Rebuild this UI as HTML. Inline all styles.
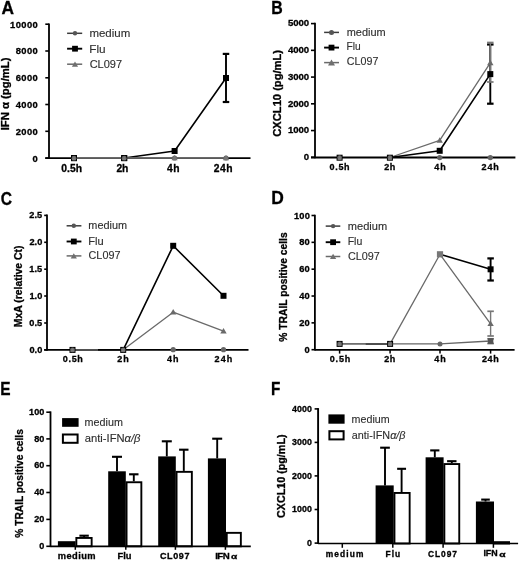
<!DOCTYPE html>
<html><head><meta charset="utf-8"><style>
html,body{margin:0;padding:0;background:#fff;}
svg{display:block;filter:blur(0.3px);}
text{font-family:"Liberation Sans",sans-serif;}
text[font-weight="bold"]{stroke:#000;stroke-width:0.3px;}
text[font-weight="normal"]{stroke:#333;stroke-width:0.12px;}
</style></head><body>
<svg width="520" height="561" viewBox="0 0 520 561">
<rect width="520" height="561" fill="#fff"/>
<text x="1.57" y="13.55" font-size="17.5" font-weight="bold" fill="#000" textLength="12.50" lengthAdjust="spacingAndGlyphs">A</text>
<line x1="49.00" y1="23.40" x2="49.00" y2="158.90" stroke="#000" stroke-width="1.8" stroke-linecap="butt"/>
<line x1="45.30" y1="24.20" x2="49.00" y2="24.20" stroke="#000" stroke-width="1.6" stroke-linecap="butt"/>
<text x="10.09" y="27.60" font-size="9.4" font-weight="bold" fill="#000" textLength="27.74" lengthAdjust="spacing">10000</text>
<line x1="45.30" y1="51.00" x2="49.00" y2="51.00" stroke="#000" stroke-width="1.6" stroke-linecap="butt"/>
<text x="15.71" y="54.40" font-size="9.4" font-weight="bold" fill="#000" textLength="22.11" lengthAdjust="spacing">8000</text>
<line x1="45.30" y1="77.80" x2="49.00" y2="77.80" stroke="#000" stroke-width="1.6" stroke-linecap="butt"/>
<text x="15.71" y="81.20" font-size="9.4" font-weight="bold" fill="#000" textLength="22.11" lengthAdjust="spacing">6000</text>
<line x1="45.30" y1="104.50" x2="49.00" y2="104.50" stroke="#000" stroke-width="1.6" stroke-linecap="butt"/>
<text x="15.71" y="107.90" font-size="9.4" font-weight="bold" fill="#000" textLength="22.11" lengthAdjust="spacing">4000</text>
<line x1="45.30" y1="131.30" x2="49.00" y2="131.30" stroke="#000" stroke-width="1.6" stroke-linecap="butt"/>
<text x="15.71" y="134.70" font-size="9.4" font-weight="bold" fill="#000" textLength="22.11" lengthAdjust="spacing">2000</text>
<line x1="45.30" y1="158.10" x2="49.00" y2="158.10" stroke="#000" stroke-width="1.6" stroke-linecap="butt"/>
<text x="32.61" y="161.50" font-size="9.4" font-weight="bold" fill="#000" textLength="5.23" lengthAdjust="spacing">0</text>
<line x1="45.30" y1="158.10" x2="250.50" y2="158.10" stroke="#000" stroke-width="1.8" stroke-linecap="butt"/>
<text x="61.29" y="172.00" font-size="10.3" font-weight="bold" fill="#000" textLength="20.84" lengthAdjust="spacing">0.5h</text>
<text x="116.44" y="172.00" font-size="10.3" font-weight="bold" fill="#000" textLength="11.90" lengthAdjust="spacing">2h</text>
<text x="167.05" y="172.00" font-size="10.3" font-weight="bold" fill="#000" textLength="12.49" lengthAdjust="spacing">4h</text>
<text x="213.74" y="172.00" font-size="10.3" font-weight="bold" fill="#000" textLength="18.91" lengthAdjust="spacing">24h</text>
<text transform="translate(8.70,129.60) rotate(-90)" x="-0.73" y="0" font-size="10.5" font-weight="bold" fill="#000" textLength="72.86" lengthAdjust="spacingAndGlyphs">IFN α (pg/mL)</text>
<line x1="67.10" y1="33.30" x2="82.20" y2="33.30" stroke="#3c3c3c" stroke-width="1.5" stroke-linecap="butt"/>
<circle cx="75.00" cy="33.30" r="2.2" fill="#555"/>
<line x1="67.10" y1="48.70" x2="82.20" y2="48.70" stroke="#000" stroke-width="1.9" stroke-linecap="butt"/>
<rect x="72.10" y="45.80" width="5.8" height="5.8" fill="#000"/>
<line x1="67.10" y1="64.20" x2="82.20" y2="64.20" stroke="#6a6a6a" stroke-width="1.5" stroke-linecap="butt"/>
<polygon points="75.00,61.44 78.10,66.71 71.90,66.71" fill="#6f6f6f"/>
<text x="89.45" y="36.80" font-size="10.6" font-weight="normal" fill="#2e2e2e" textLength="40.81" lengthAdjust="spacingAndGlyphs">medium</text>
<text x="89.26" y="52.80" font-size="10.6" font-weight="normal" fill="#2e2e2e" textLength="16.40" lengthAdjust="spacingAndGlyphs">Flu</text>
<text x="89.65" y="67.80" font-size="10.6" font-weight="normal" fill="#2e2e2e" textLength="32.42" lengthAdjust="spacingAndGlyphs">CL097</text>
<polyline points="124.20,158.00 174.60,151.00 226.00,78.00" fill="none" stroke="#000" stroke-width="1.6" stroke-linejoin="round"/>
<line x1="226.00" y1="53.90" x2="226.00" y2="102.00" stroke="#000" stroke-width="1.9" stroke-linecap="butt"/>
<line x1="222.75" y1="53.90" x2="229.25" y2="53.90" stroke="#000" stroke-width="2.1999999999999997" stroke-linecap="butt"/>
<line x1="222.75" y1="102.00" x2="229.25" y2="102.00" stroke="#000" stroke-width="2.1999999999999997" stroke-linecap="butt"/>
<rect x="71.00" y="155.00" width="6" height="6" fill="#000"/>
<rect x="121.20" y="155.00" width="6" height="6" fill="#000"/>
<rect x="171.60" y="148.00" width="6" height="6" fill="#000"/>
<rect x="223.00" y="75.00" width="6" height="6" fill="#000"/>
<polyline points="74.00,158.00 226.00,158.00" fill="none" stroke="#777" stroke-width="1.4" stroke-linejoin="round"/>
<rect x="71.00" y="155.20" width="6" height="6" fill="#000"/>
<circle cx="74.00" cy="158.20" r="2.4" fill="#6a6a6a"/>
<polygon points="74.00,156.23 76.30,160.14 71.70,160.14" fill="#7a7a7a"/>
<rect x="121.20" y="155.20" width="6" height="6" fill="#000"/>
<circle cx="124.20" cy="158.20" r="2.4" fill="#6a6a6a"/>
<polygon points="124.20,156.23 126.50,160.14 121.90,160.14" fill="#7a7a7a"/>
<circle cx="174.60" cy="158.00" r="2.6" fill="#666"/>
<polygon points="174.60,154.94 177.70,160.21 171.50,160.21" fill="#777"/>
<circle cx="226.00" cy="158.00" r="2.6" fill="#666"/>
<polygon points="226.00,154.94 229.10,160.21 222.90,160.21" fill="#777"/>
<text x="271.27" y="13.90" font-size="17.5" font-weight="bold" fill="#000" textLength="11.48" lengthAdjust="spacingAndGlyphs">B</text>
<line x1="315.00" y1="22.80" x2="315.00" y2="158.30" stroke="#000" stroke-width="1.8" stroke-linecap="butt"/>
<line x1="311.00" y1="23.60" x2="315.00" y2="23.60" stroke="#000" stroke-width="1.6" stroke-linecap="butt"/>
<text x="288.12" y="26.45" font-size="9.6" font-weight="bold" fill="#000" textLength="21.06" lengthAdjust="spacing">5000</text>
<line x1="311.00" y1="50.34" x2="315.00" y2="50.34" stroke="#000" stroke-width="1.6" stroke-linecap="butt"/>
<text x="288.12" y="53.19" font-size="9.6" font-weight="bold" fill="#000" textLength="21.06" lengthAdjust="spacing">4000</text>
<line x1="311.00" y1="77.08" x2="315.00" y2="77.08" stroke="#000" stroke-width="1.6" stroke-linecap="butt"/>
<text x="288.12" y="79.93" font-size="9.6" font-weight="bold" fill="#000" textLength="21.06" lengthAdjust="spacing">3000</text>
<line x1="311.00" y1="103.82" x2="315.00" y2="103.82" stroke="#000" stroke-width="1.6" stroke-linecap="butt"/>
<text x="288.12" y="106.67" font-size="9.6" font-weight="bold" fill="#000" textLength="21.06" lengthAdjust="spacing">2000</text>
<line x1="311.00" y1="130.56" x2="315.00" y2="130.56" stroke="#000" stroke-width="1.6" stroke-linecap="butt"/>
<text x="288.12" y="133.41" font-size="9.6" font-weight="bold" fill="#000" textLength="21.06" lengthAdjust="spacing">1000</text>
<line x1="311.00" y1="157.30" x2="315.00" y2="157.30" stroke="#000" stroke-width="1.6" stroke-linecap="butt"/>
<text x="303.86" y="160.15" font-size="9.6" font-weight="bold" fill="#000" textLength="5.34" lengthAdjust="spacing">0</text>
<line x1="311.00" y1="157.50" x2="515.40" y2="157.50" stroke="#000" stroke-width="1.8" stroke-linecap="butt"/>
<text x="329.54" y="170.40" font-size="9.0" font-weight="bold" fill="#000" textLength="20.01" lengthAdjust="spacing">0.5h</text>
<text x="384.19" y="170.40" font-size="9.0" font-weight="bold" fill="#000" textLength="11.07" lengthAdjust="spacing">2h</text>
<text x="434.37" y="170.40" font-size="9.0" font-weight="bold" fill="#000" textLength="11.39" lengthAdjust="spacing">4h</text>
<text x="481.59" y="170.40" font-size="9.0" font-weight="bold" fill="#000" textLength="17.18" lengthAdjust="spacing">24h</text>
<text transform="translate(281.30,136.30) rotate(-90)" x="-0.45" y="0" font-size="10.9" font-weight="bold" fill="#000" textLength="86.78" lengthAdjust="spacingAndGlyphs">CXCL10 (pg/mL)</text>
<line x1="324.10" y1="32.40" x2="339.00" y2="32.40" stroke="#3c3c3c" stroke-width="1.5" stroke-linecap="butt"/>
<circle cx="331.50" cy="32.40" r="2.5" fill="#555"/>
<line x1="324.10" y1="47.60" x2="339.00" y2="47.60" stroke="#000" stroke-width="1.9" stroke-linecap="butt"/>
<rect x="328.60" y="44.70" width="5.8" height="5.8" fill="#000"/>
<line x1="324.10" y1="62.60" x2="339.00" y2="62.60" stroke="#6a6a6a" stroke-width="1.5" stroke-linecap="butt"/>
<polygon points="331.50,59.45 335.00,65.40 328.00,65.40" fill="#6f6f6f"/>
<text x="346.69" y="35.80" font-size="10.2" font-weight="normal" fill="#2e2e2e" textLength="38.94" lengthAdjust="spacingAndGlyphs">medium</text>
<text x="346.58" y="50.40" font-size="10.2" font-weight="normal" fill="#2e2e2e" textLength="14.17" lengthAdjust="spacingAndGlyphs">Flu</text>
<text x="346.87" y="65.40" font-size="10.2" font-weight="normal" fill="#2e2e2e" textLength="31.49" lengthAdjust="spacingAndGlyphs">CL097</text>
<polyline points="389.90,157.50 439.70,140.40 490.30,62.90" fill="none" stroke="#6a6a6a" stroke-width="1.3" stroke-linejoin="round"/>
<polyline points="389.90,157.50 439.70,150.80 490.30,74.10" fill="none" stroke="#000" stroke-width="1.6" stroke-linejoin="round"/>
<line x1="490.30" y1="44.50" x2="490.30" y2="103.70" stroke="#000" stroke-width="1.9" stroke-linecap="butt"/>
<line x1="487.05" y1="44.50" x2="493.55" y2="44.50" stroke="#000" stroke-width="2.1999999999999997" stroke-linecap="butt"/>
<line x1="487.05" y1="103.70" x2="493.55" y2="103.70" stroke="#000" stroke-width="2.1999999999999997" stroke-linecap="butt"/>
<line x1="490.30" y1="42.50" x2="490.30" y2="82.00" stroke="#777" stroke-width="1.4" stroke-linecap="butt"/>
<line x1="487.05" y1="42.50" x2="493.55" y2="42.50" stroke="#777" stroke-width="1.7" stroke-linecap="butt"/>
<line x1="487.05" y1="82.00" x2="493.55" y2="82.00" stroke="#777" stroke-width="1.7" stroke-linecap="butt"/>
<rect x="436.70" y="147.80" width="6" height="6" fill="#000"/>
<rect x="487.30" y="71.10" width="6" height="6" fill="#000"/>
<polygon points="439.70,137.24 442.90,142.68 436.50,142.68" fill="#6a6a6a"/>
<polygon points="490.30,59.74 493.50,65.18 487.10,65.18" fill="#6a6a6a"/>
<rect x="336.60" y="154.70" width="6" height="6" fill="#000"/>
<circle cx="339.60" cy="157.70" r="2.4" fill="#6a6a6a"/>
<polygon points="339.60,155.73 341.90,159.64 337.30,159.64" fill="#7a7a7a"/>
<rect x="386.90" y="154.70" width="6" height="6" fill="#000"/>
<circle cx="389.90" cy="157.70" r="2.4" fill="#6a6a6a"/>
<polygon points="389.90,155.73 392.20,159.64 387.60,159.64" fill="#7a7a7a"/>
<circle cx="439.70" cy="157.60" r="2.7" fill="#666"/>
<circle cx="490.30" cy="157.60" r="2.7" fill="#666"/>
<text x="0.68" y="204.85" font-size="17.5" font-weight="bold" fill="#000" textLength="11.25" lengthAdjust="spacingAndGlyphs">C</text>
<line x1="47.00" y1="214.60" x2="47.00" y2="350.70" stroke="#000" stroke-width="1.8" stroke-linecap="butt"/>
<line x1="44.20" y1="215.40" x2="47.00" y2="215.40" stroke="#000" stroke-width="1.6" stroke-linecap="butt"/>
<text x="29.34" y="218.40" font-size="9.2" font-weight="bold" fill="#000" textLength="12.79" lengthAdjust="spacing">2.5</text>
<line x1="44.20" y1="242.30" x2="47.00" y2="242.30" stroke="#000" stroke-width="1.6" stroke-linecap="butt"/>
<text x="29.48" y="245.30" font-size="9.2" font-weight="bold" fill="#000" textLength="12.79" lengthAdjust="spacing">2.0</text>
<line x1="44.20" y1="269.20" x2="47.00" y2="269.20" stroke="#000" stroke-width="1.6" stroke-linecap="butt"/>
<text x="29.34" y="272.20" font-size="9.2" font-weight="bold" fill="#000" textLength="12.79" lengthAdjust="spacing">1.5</text>
<line x1="44.20" y1="296.00" x2="47.00" y2="296.00" stroke="#000" stroke-width="1.6" stroke-linecap="butt"/>
<text x="29.48" y="299.00" font-size="9.2" font-weight="bold" fill="#000" textLength="12.79" lengthAdjust="spacing">1.0</text>
<line x1="44.20" y1="323.00" x2="47.00" y2="323.00" stroke="#000" stroke-width="1.6" stroke-linecap="butt"/>
<text x="29.34" y="326.00" font-size="9.2" font-weight="bold" fill="#000" textLength="12.79" lengthAdjust="spacing">0.5</text>
<line x1="44.20" y1="349.80" x2="47.00" y2="349.80" stroke="#000" stroke-width="1.6" stroke-linecap="butt"/>
<text x="29.48" y="352.80" font-size="9.2" font-weight="bold" fill="#000" textLength="12.79" lengthAdjust="spacing">0.0</text>
<line x1="44.20" y1="349.90" x2="248.50" y2="349.90" stroke="#000" stroke-width="1.8" stroke-linecap="butt"/>
<text x="62.84" y="362.15" font-size="9.0" font-weight="bold" fill="#000" textLength="20.01" lengthAdjust="spacing">0.5h</text>
<text x="117.19" y="362.15" font-size="9.0" font-weight="bold" fill="#000" textLength="11.57" lengthAdjust="spacing">2h</text>
<text x="167.07" y="362.15" font-size="9.0" font-weight="bold" fill="#000" textLength="11.39" lengthAdjust="spacing">4h</text>
<text x="214.59" y="362.15" font-size="9.0" font-weight="bold" fill="#000" textLength="17.68" lengthAdjust="spacing">24h</text>
<text transform="translate(22.20,326.50) rotate(-90)" x="-0.68" y="0" font-size="10.5" font-weight="bold" fill="#000" textLength="81.58" lengthAdjust="spacingAndGlyphs">MxA (relative Ct)</text>
<line x1="66.60" y1="225.80" x2="81.40" y2="225.80" stroke="#3c3c3c" stroke-width="1.5" stroke-linecap="butt"/>
<circle cx="73.80" cy="225.80" r="2.2" fill="#555"/>
<line x1="66.60" y1="241.50" x2="81.40" y2="241.50" stroke="#000" stroke-width="1.9" stroke-linecap="butt"/>
<rect x="70.90" y="238.60" width="5.8" height="5.8" fill="#000"/>
<line x1="66.60" y1="255.90" x2="81.40" y2="255.90" stroke="#6a6a6a" stroke-width="1.5" stroke-linecap="butt"/>
<polygon points="73.80,253.14 76.90,258.41 70.70,258.41" fill="#6f6f6f"/>
<text x="88.39" y="229.20" font-size="10.0" font-weight="normal" fill="#2e2e2e" textLength="38.74" lengthAdjust="spacingAndGlyphs">medium</text>
<text x="88.21" y="244.50" font-size="10.0" font-weight="normal" fill="#2e2e2e" textLength="15.40" lengthAdjust="spacingAndGlyphs">Flu</text>
<text x="88.56" y="259.30" font-size="10.0" font-weight="normal" fill="#2e2e2e" textLength="31.90" lengthAdjust="spacingAndGlyphs">CL097</text>
<polyline points="98.00,349.80 123.20,349.80 173.20,245.80 223.50,295.80" fill="none" stroke="#000" stroke-width="1.6" stroke-linejoin="round"/>
<polyline points="123.20,349.80 173.20,312.20 223.50,331.20" fill="none" stroke="#6a6a6a" stroke-width="1.3" stroke-linejoin="round"/>
<polyline points="72.50,349.80 98.00,349.80" fill="none" stroke="#666" stroke-width="1.2" stroke-linejoin="round"/>
<rect x="170.20" y="242.80" width="6" height="6" fill="#000"/>
<rect x="220.50" y="292.80" width="6" height="6" fill="#000"/>
<polygon points="173.20,309.04 176.40,314.48 170.00,314.48" fill="#6a6a6a"/>
<polygon points="223.50,328.04 226.70,333.48 220.30,333.48" fill="#6a6a6a"/>
<rect x="69.50" y="346.90" width="6" height="6" fill="#000"/>
<circle cx="72.50" cy="349.90" r="2.4" fill="#6a6a6a"/>
<polygon points="72.50,347.93 74.80,351.84 70.20,351.84" fill="#7a7a7a"/>
<rect x="120.20" y="346.90" width="6" height="6" fill="#000"/>
<circle cx="123.20" cy="349.90" r="2.4" fill="#6a6a6a"/>
<polygon points="123.20,347.93 125.50,351.84 120.90,351.84" fill="#7a7a7a"/>
<circle cx="173.20" cy="349.70" r="2.6" fill="#666"/>
<circle cx="223.50" cy="349.70" r="2.6" fill="#666"/>
<text x="271.17" y="203.50" font-size="17.5" font-weight="bold" fill="#000" textLength="12.56" lengthAdjust="spacingAndGlyphs">D</text>
<line x1="314.90" y1="214.70" x2="314.90" y2="350.60" stroke="#000" stroke-width="1.8" stroke-linecap="butt"/>
<line x1="311.50" y1="215.50" x2="314.90" y2="215.50" stroke="#000" stroke-width="1.6" stroke-linecap="butt"/>
<text x="293.89" y="218.55" font-size="9.3" font-weight="bold" fill="#000" textLength="15.92" lengthAdjust="spacing">100</text>
<line x1="311.50" y1="242.34" x2="314.90" y2="242.34" stroke="#000" stroke-width="1.6" stroke-linecap="butt"/>
<text x="299.25" y="245.39" font-size="9.3" font-weight="bold" fill="#000" textLength="10.54" lengthAdjust="spacing">80</text>
<line x1="311.50" y1="269.18" x2="314.90" y2="269.18" stroke="#000" stroke-width="1.6" stroke-linecap="butt"/>
<text x="299.25" y="272.23" font-size="9.3" font-weight="bold" fill="#000" textLength="10.54" lengthAdjust="spacing">60</text>
<line x1="311.50" y1="296.02" x2="314.90" y2="296.02" stroke="#000" stroke-width="1.6" stroke-linecap="butt"/>
<text x="299.25" y="299.07" font-size="9.3" font-weight="bold" fill="#000" textLength="10.54" lengthAdjust="spacing">40</text>
<line x1="311.50" y1="322.86" x2="314.90" y2="322.86" stroke="#000" stroke-width="1.6" stroke-linecap="butt"/>
<text x="299.25" y="325.91" font-size="9.3" font-weight="bold" fill="#000" textLength="10.54" lengthAdjust="spacing">20</text>
<line x1="311.50" y1="349.70" x2="314.90" y2="349.70" stroke="#000" stroke-width="1.6" stroke-linecap="butt"/>
<text x="304.61" y="352.75" font-size="9.3" font-weight="bold" fill="#000" textLength="5.17" lengthAdjust="spacing">0</text>
<line x1="314.90" y1="349.90" x2="514.60" y2="349.90" stroke="#000" stroke-width="1.8" stroke-linecap="butt"/>
<line x1="339.60" y1="349.90" x2="339.60" y2="353.60" stroke="#000" stroke-width="1.5" stroke-linecap="butt"/>
<line x1="390.10" y1="349.90" x2="390.10" y2="353.60" stroke="#000" stroke-width="1.5" stroke-linecap="butt"/>
<line x1="440.00" y1="349.90" x2="440.00" y2="353.60" stroke="#000" stroke-width="1.5" stroke-linecap="butt"/>
<line x1="490.60" y1="349.90" x2="490.60" y2="353.60" stroke="#000" stroke-width="1.5" stroke-linecap="butt"/>
<text x="329.84" y="362.15" font-size="9.0" font-weight="bold" fill="#000" textLength="20.31" lengthAdjust="spacing">0.5h</text>
<text x="384.19" y="362.15" font-size="9.0" font-weight="bold" fill="#000" textLength="11.07" lengthAdjust="spacing">2h</text>
<text x="434.37" y="362.15" font-size="9.0" font-weight="bold" fill="#000" textLength="11.39" lengthAdjust="spacing">4h</text>
<text x="481.88" y="362.15" font-size="9.0" font-weight="bold" fill="#000" textLength="16.88" lengthAdjust="spacing">24h</text>
<text transform="translate(286.50,341.40) rotate(-90)" x="-0.26" y="0" font-size="10.4" font-weight="bold" fill="#000" textLength="109.28" lengthAdjust="spacingAndGlyphs">% TRAIL positive cells</text>
<line x1="325.70" y1="226.10" x2="340.30" y2="226.10" stroke="#3c3c3c" stroke-width="1.5" stroke-linecap="butt"/>
<circle cx="333.10" cy="226.10" r="2.2" fill="#555"/>
<line x1="325.70" y1="242.20" x2="340.30" y2="242.20" stroke="#000" stroke-width="1.9" stroke-linecap="butt"/>
<rect x="330.20" y="239.30" width="5.8" height="5.8" fill="#000"/>
<line x1="325.70" y1="256.50" x2="340.30" y2="256.50" stroke="#6a6a6a" stroke-width="1.5" stroke-linecap="butt"/>
<polygon points="333.10,253.74 336.20,259.01 330.00,259.01" fill="#6f6f6f"/>
<text x="347.78" y="229.80" font-size="10.0" font-weight="normal" fill="#2e2e2e" textLength="39.36" lengthAdjust="spacingAndGlyphs">medium</text>
<text x="347.66" y="244.80" font-size="10.0" font-weight="normal" fill="#2e2e2e" textLength="14.62" lengthAdjust="spacingAndGlyphs">Flu</text>
<text x="347.96" y="259.60" font-size="10.0" font-weight="normal" fill="#2e2e2e" textLength="31.80" lengthAdjust="spacingAndGlyphs">CL097</text>
<polyline points="339.60,343.90 390.10,343.90 440.00,254.30 490.60,323.80" fill="none" stroke="#6a6a6a" stroke-width="1.3" stroke-linejoin="round"/>
<polyline points="440.00,254.30 490.60,269.30" fill="none" stroke="#000" stroke-width="1.6" stroke-linejoin="round"/>
<polyline points="365.70,343.90 390.10,343.90" fill="none" stroke="#000" stroke-width="1.6" stroke-linejoin="round"/>
<polyline points="339.60,343.90 390.10,343.90 440.00,343.90 490.60,341.00" fill="none" stroke="#666" stroke-width="1.4" stroke-linejoin="round"/>
<line x1="490.60" y1="258.40" x2="490.60" y2="280.50" stroke="#000" stroke-width="1.9" stroke-linecap="butt"/>
<line x1="487.35" y1="258.40" x2="493.85" y2="258.40" stroke="#000" stroke-width="2.1999999999999997" stroke-linecap="butt"/>
<line x1="487.35" y1="280.50" x2="493.85" y2="280.50" stroke="#000" stroke-width="2.1999999999999997" stroke-linecap="butt"/>
<line x1="490.60" y1="311.30" x2="490.60" y2="336.00" stroke="#777" stroke-width="1.4" stroke-linecap="butt"/>
<line x1="487.35" y1="311.30" x2="493.85" y2="311.30" stroke="#777" stroke-width="1.7" stroke-linecap="butt"/>
<line x1="487.35" y1="336.00" x2="493.85" y2="336.00" stroke="#777" stroke-width="1.7" stroke-linecap="butt"/>
<line x1="490.60" y1="338.80" x2="490.60" y2="343.50" stroke="#666" stroke-width="1.4" stroke-linecap="butt"/>
<line x1="487.35" y1="338.80" x2="493.85" y2="338.80" stroke="#666" stroke-width="1.7" stroke-linecap="butt"/>
<line x1="487.35" y1="343.50" x2="493.85" y2="343.50" stroke="#666" stroke-width="1.7" stroke-linecap="butt"/>
<rect x="487.60" y="266.30" width="6" height="6" fill="#000"/>
<rect x="436.90" y="251.20" width="6.2" height="6.2" fill="#777"/>
<polygon points="490.60,320.64 493.80,326.08 487.40,326.08" fill="#6a6a6a"/>
<rect x="336.60" y="340.90" width="6" height="6" fill="#000"/>
<circle cx="339.60" cy="343.90" r="2.4" fill="#6a6a6a"/>
<polygon points="339.60,341.93 341.90,345.84 337.30,345.84" fill="#7a7a7a"/>
<rect x="387.10" y="340.90" width="6" height="6" fill="#000"/>
<circle cx="390.10" cy="343.90" r="2.4" fill="#6a6a6a"/>
<polygon points="390.10,341.93 392.40,345.84 387.80,345.84" fill="#7a7a7a"/>
<circle cx="440.00" cy="343.90" r="2.5" fill="#666"/>
<rect x="487.85" y="338.25" width="5.5" height="5.5" fill="#555"/>
<text x="0.15" y="395.10" font-size="17.5" font-weight="bold" fill="#000" textLength="10.32" lengthAdjust="spacingAndGlyphs">E</text>
<line x1="50.50" y1="411.40" x2="50.50" y2="547.10" stroke="#000" stroke-width="1.8" stroke-linecap="butt"/>
<line x1="46.30" y1="412.20" x2="50.50" y2="412.20" stroke="#000" stroke-width="1.6" stroke-linecap="butt"/>
<text x="29.11" y="414.80" font-size="9.1" font-weight="bold" fill="#000" textLength="15.18" lengthAdjust="spacing">100</text>
<line x1="46.30" y1="438.90" x2="50.50" y2="438.90" stroke="#000" stroke-width="1.6" stroke-linecap="butt"/>
<text x="34.16" y="441.50" font-size="9.1" font-weight="bold" fill="#000" textLength="10.12" lengthAdjust="spacing">80</text>
<line x1="46.30" y1="465.70" x2="50.50" y2="465.70" stroke="#000" stroke-width="1.6" stroke-linecap="butt"/>
<text x="34.16" y="468.30" font-size="9.1" font-weight="bold" fill="#000" textLength="10.12" lengthAdjust="spacing">60</text>
<line x1="46.30" y1="492.50" x2="50.50" y2="492.50" stroke="#000" stroke-width="1.6" stroke-linecap="butt"/>
<text x="34.16" y="495.10" font-size="9.1" font-weight="bold" fill="#000" textLength="10.12" lengthAdjust="spacing">40</text>
<line x1="46.30" y1="519.40" x2="50.50" y2="519.40" stroke="#000" stroke-width="1.6" stroke-linecap="butt"/>
<text x="34.16" y="522.00" font-size="9.1" font-weight="bold" fill="#000" textLength="10.12" lengthAdjust="spacing">20</text>
<line x1="46.30" y1="546.30" x2="50.50" y2="546.30" stroke="#000" stroke-width="1.6" stroke-linecap="butt"/>
<text x="39.21" y="548.90" font-size="9.1" font-weight="bold" fill="#000" textLength="5.06" lengthAdjust="spacing">0</text>
<rect x="57.90" y="541.20" width="17.70" height="5.10" fill="#000"/>
<rect x="76.35" y="537.95" width="15.30" height="8.35" fill="#fff" stroke="#000" stroke-width="1.9"/>
<line x1="84.10" y1="537.00" x2="84.10" y2="535.70" stroke="#000" stroke-width="1.9" stroke-linecap="butt"/>
<line x1="79.40" y1="535.70" x2="88.80" y2="535.70" stroke="#000" stroke-width="2.1" stroke-linecap="butt"/>
<rect x="108.20" y="471.30" width="17.60" height="75.00" fill="#000"/>
<line x1="117.00" y1="471.30" x2="117.00" y2="456.80" stroke="#000" stroke-width="1.9" stroke-linecap="butt"/>
<line x1="112.00" y1="456.80" x2="122.00" y2="456.80" stroke="#000" stroke-width="2.1" stroke-linecap="butt"/>
<rect x="126.55" y="482.25" width="14.80" height="64.05" fill="#fff" stroke="#000" stroke-width="1.9"/>
<line x1="133.80" y1="481.30" x2="133.80" y2="474.30" stroke="#000" stroke-width="1.9" stroke-linecap="butt"/>
<line x1="129.10" y1="474.30" x2="138.50" y2="474.30" stroke="#000" stroke-width="2.1" stroke-linecap="butt"/>
<rect x="158.20" y="456.40" width="17.60" height="89.90" fill="#000"/>
<line x1="166.80" y1="456.40" x2="166.80" y2="441.30" stroke="#000" stroke-width="1.9" stroke-linecap="butt"/>
<line x1="161.80" y1="441.30" x2="171.80" y2="441.30" stroke="#000" stroke-width="2.1" stroke-linecap="butt"/>
<rect x="176.55" y="471.85" width="15.30" height="74.45" fill="#fff" stroke="#000" stroke-width="1.9"/>
<line x1="183.80" y1="470.90" x2="183.80" y2="449.70" stroke="#000" stroke-width="1.9" stroke-linecap="butt"/>
<line x1="179.10" y1="449.70" x2="188.50" y2="449.70" stroke="#000" stroke-width="2.1" stroke-linecap="butt"/>
<rect x="207.90" y="458.40" width="18.10" height="87.90" fill="#000"/>
<line x1="217.20" y1="458.40" x2="217.20" y2="438.70" stroke="#000" stroke-width="1.9" stroke-linecap="butt"/>
<line x1="212.20" y1="438.70" x2="222.20" y2="438.70" stroke="#000" stroke-width="2.1" stroke-linecap="butt"/>
<rect x="226.75" y="532.85" width="14.10" height="13.45" fill="#fff" stroke="#000" stroke-width="1.9"/>
<line x1="50.50" y1="546.30" x2="250.80" y2="546.30" stroke="#000" stroke-width="1.7" stroke-linecap="butt"/>
<line x1="75.30" y1="546.30" x2="75.30" y2="549.80" stroke="#000" stroke-width="1.5" stroke-linecap="butt"/>
<line x1="125.80" y1="546.30" x2="125.80" y2="549.80" stroke="#000" stroke-width="1.5" stroke-linecap="butt"/>
<line x1="175.40" y1="546.30" x2="175.40" y2="549.80" stroke="#000" stroke-width="1.5" stroke-linecap="butt"/>
<line x1="225.40" y1="546.30" x2="225.40" y2="549.80" stroke="#000" stroke-width="1.5" stroke-linecap="butt"/>
<text x="57.80" y="559.00" font-size="9.3" font-weight="bold" fill="#000" textLength="37.70" lengthAdjust="spacing">medium</text>
<text x="117.40" y="559.00" font-size="9.3" font-weight="bold" fill="#000" textLength="14.10" lengthAdjust="spacing">Flu</text>
<text x="159.94" y="559.00" font-size="9.0" font-weight="bold" fill="#000" textLength="29.58" lengthAdjust="spacing">CL097</text>
<text x="215.17" y="558.95" font-size="9.7" font-weight="bold" fill="#000" textLength="14.47" lengthAdjust="spacing">IFN</text>
<text x="231.00" y="558.95" font-size="8.0" font-weight="bold" fill="#000" textLength="6.20" lengthAdjust="spacingAndGlyphs">α</text>
<text transform="translate(22.60,537.40) rotate(-90)" x="-0.25" y="0" font-size="10.4" font-weight="bold" fill="#000" textLength="108.48" lengthAdjust="spacingAndGlyphs">% TRAIL positive cells</text>
<rect x="62.1" y="418.1" width="16.5" height="8.7" fill="#000"/>
<rect x="62.9" y="434.5" width="14.7" height="8.3" fill="#fff" stroke="#000" stroke-width="2"/>
<text x="84.60" y="425.50" font-size="10.4" font-weight="normal" fill="#2e2e2e" textLength="38.32" lengthAdjust="spacingAndGlyphs">medium</text>
<text x="84.80" y="442.20" font-size="10.4" font-weight="normal" fill="#2e2e2e" textLength="55.68" lengthAdjust="spacingAndGlyphs">anti-IFN<tspan font-style="italic">α/β</tspan></text>
<text x="271.01" y="395.00" font-size="17.5" font-weight="bold" fill="#000" textLength="9.34" lengthAdjust="spacingAndGlyphs">F</text>
<line x1="318.10" y1="408.10" x2="318.10" y2="544.00" stroke="#000" stroke-width="1.9" stroke-linecap="butt"/>
<line x1="314.60" y1="408.90" x2="318.10" y2="408.90" stroke="#000" stroke-width="1.6" stroke-linecap="butt"/>
<text x="292.07" y="411.75" font-size="8.8" font-weight="bold" fill="#000" textLength="19.88" lengthAdjust="spacing">4000</text>
<line x1="314.60" y1="442.40" x2="318.10" y2="442.40" stroke="#000" stroke-width="1.6" stroke-linecap="butt"/>
<text x="292.07" y="445.25" font-size="8.8" font-weight="bold" fill="#000" textLength="19.88" lengthAdjust="spacing">3000</text>
<line x1="314.60" y1="475.90" x2="318.10" y2="475.90" stroke="#000" stroke-width="1.6" stroke-linecap="butt"/>
<text x="292.07" y="478.75" font-size="8.8" font-weight="bold" fill="#000" textLength="19.88" lengthAdjust="spacing">2000</text>
<line x1="314.60" y1="509.50" x2="318.10" y2="509.50" stroke="#000" stroke-width="1.6" stroke-linecap="butt"/>
<text x="292.07" y="512.35" font-size="8.8" font-weight="bold" fill="#000" textLength="19.88" lengthAdjust="spacing">1000</text>
<line x1="314.60" y1="543.10" x2="318.10" y2="543.10" stroke="#000" stroke-width="1.6" stroke-linecap="butt"/>
<text x="307.07" y="545.95" font-size="8.8" font-weight="bold" fill="#000" textLength="4.89" lengthAdjust="spacing">0</text>
<rect x="375.60" y="485.40" width="18.10" height="58.10" fill="#000"/>
<line x1="385.00" y1="485.40" x2="385.00" y2="447.70" stroke="#000" stroke-width="1.9" stroke-linecap="butt"/>
<line x1="380.15" y1="447.70" x2="389.85" y2="447.70" stroke="#000" stroke-width="2.1" stroke-linecap="butt"/>
<rect x="394.45" y="492.95" width="15.20" height="50.55" fill="#fff" stroke="#000" stroke-width="1.9"/>
<line x1="401.60" y1="492.00" x2="401.60" y2="468.80" stroke="#000" stroke-width="1.9" stroke-linecap="butt"/>
<line x1="397.15" y1="468.80" x2="406.05" y2="468.80" stroke="#000" stroke-width="2.1" stroke-linecap="butt"/>
<rect x="425.60" y="457.30" width="18.00" height="86.20" fill="#000"/>
<line x1="434.80" y1="457.30" x2="434.80" y2="450.40" stroke="#000" stroke-width="1.9" stroke-linecap="butt"/>
<line x1="430.20" y1="450.40" x2="439.40" y2="450.40" stroke="#000" stroke-width="2.1" stroke-linecap="butt"/>
<rect x="444.35" y="464.05" width="14.90" height="79.45" fill="#fff" stroke="#000" stroke-width="1.9"/>
<line x1="451.80" y1="463.10" x2="451.80" y2="461.20" stroke="#000" stroke-width="1.9" stroke-linecap="butt"/>
<line x1="447.10" y1="461.20" x2="456.50" y2="461.20" stroke="#000" stroke-width="2.1" stroke-linecap="butt"/>
<rect x="475.90" y="501.50" width="18.10" height="42.00" fill="#000"/>
<line x1="485.50" y1="501.50" x2="485.50" y2="499.60" stroke="#000" stroke-width="1.9" stroke-linecap="butt"/>
<line x1="481.20" y1="499.60" x2="489.80" y2="499.60" stroke="#000" stroke-width="2.1" stroke-linecap="butt"/>
<rect x="494.75" y="542.15" width="14.30" height="1.35" fill="#fff" stroke="#000" stroke-width="1.9"/>
<line x1="318.10" y1="543.50" x2="518.10" y2="543.50" stroke="#000" stroke-width="1.7" stroke-linecap="butt"/>
<line x1="342.30" y1="543.50" x2="342.30" y2="547.80" stroke="#000" stroke-width="1.5" stroke-linecap="butt"/>
<line x1="392.80" y1="543.50" x2="392.80" y2="547.80" stroke="#000" stroke-width="1.5" stroke-linecap="butt"/>
<line x1="443.10" y1="543.50" x2="443.10" y2="547.80" stroke="#000" stroke-width="1.5" stroke-linecap="butt"/>
<line x1="493.40" y1="543.50" x2="493.40" y2="547.80" stroke="#000" stroke-width="1.5" stroke-linecap="butt"/>
<text x="325.75" y="556.80" font-size="8.4" font-weight="bold" fill="#000" textLength="37.68" lengthAdjust="spacing">medium</text>
<text x="385.55" y="556.80" font-size="8.4" font-weight="bold" fill="#000" textLength="14.69" lengthAdjust="spacing">Flu</text>
<text x="428.06" y="556.80" font-size="8.4" font-weight="bold" fill="#000" textLength="28.93" lengthAdjust="spacing">CL097</text>
<text x="483.47" y="556.40" font-size="8.9" font-weight="bold" fill="#000" textLength="14.11" lengthAdjust="spacing">IFN</text>
<text x="499.19" y="556.95" font-size="7.8" font-weight="bold" fill="#000" textLength="6.31" lengthAdjust="spacingAndGlyphs">α</text>
<text transform="translate(284.60,517.50) rotate(-90)" x="-0.43" y="0" font-size="10.5" font-weight="bold" fill="#000" textLength="83.44" lengthAdjust="spacingAndGlyphs">CXCL10 (pg/mL)</text>
<rect x="328.4" y="414.4" width="16.2" height="9.3" fill="#000"/>
<rect x="329.4" y="431.2" width="14.2" height="8.2" fill="#fff" stroke="#000" stroke-width="2"/>
<text x="351.61" y="422.70" font-size="10.4" font-weight="normal" fill="#2e2e2e" textLength="38.01" lengthAdjust="spacingAndGlyphs">medium</text>
<text x="351.82" y="439.30" font-size="10.4" font-weight="normal" fill="#2e2e2e" textLength="53.64" lengthAdjust="spacingAndGlyphs">anti-IFN<tspan font-style="italic">α/β</tspan></text>
</svg></body></html>
